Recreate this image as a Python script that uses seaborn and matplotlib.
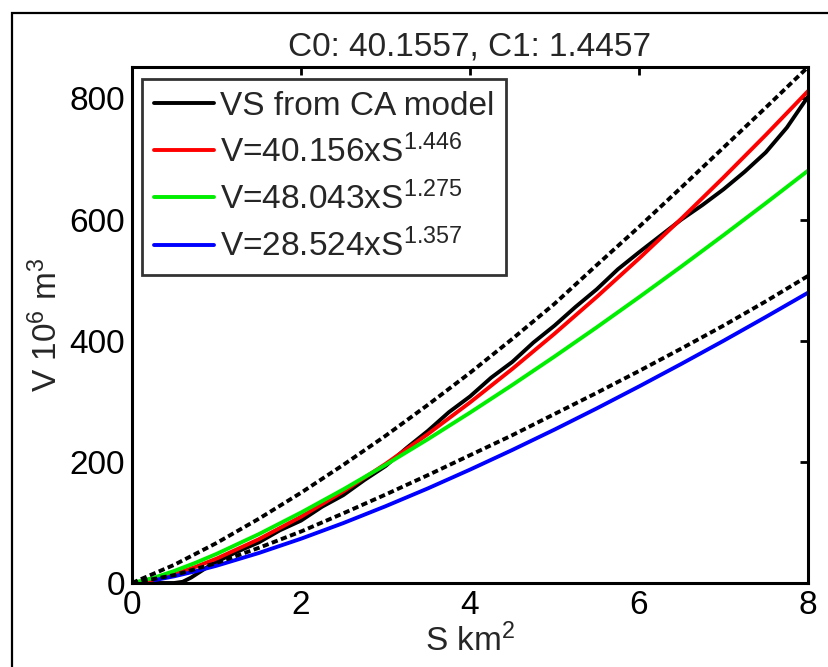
import matplotlib
matplotlib.use("Agg")
import matplotlib.pyplot as plt
import seaborn as sns
import pandas as pd
from matplotlib.patches import Rectangle
from matplotlib.lines import Line2D

# ---- data ----
S_ca = [0, 0.25, 0.5, 0.6, 0.7, 0.8, 0.9, 1.0, 1.25, 1.5, 1.75, 2.0, 2.25, 2.5, 2.75,
        3.0, 3.25, 3.5, 3.75, 4.0, 4.25, 4.5, 4.75, 5.0, 5.25, 5.5, 5.75, 6.0, 6.25,
        6.5, 6.75, 7.0, 7.25, 7.5, 7.75, 8.0]
V_ca = [0, 0, 0, 2, 9, 18, 27, 35, 52, 67, 87, 103, 126, 145, 170,
        193, 223, 251, 282, 308, 339, 365, 397, 425, 456, 485, 518, 546, 573,
        600, 624, 650, 679, 711, 752, 803]

S_fit = [0, 0.25, 0.5, 0.75, 1.0, 1.5, 2.0, 2.5, 3.0, 3.5, 4.0, 4.5, 5.0, 5.5,
         6.0, 6.5, 7.0, 7.5, 8.0]
V_red = [0, 5.4, 14.7, 26.5, 40.2, 72.2, 109.4, 151.1, 196.6, 245.8, 298.1, 353.4,
         411.6, 472.4, 535.7, 601.4, 669.6, 739.8, 812.2]
V_green = [0, 8.2, 19.9, 33.3, 48.0, 80.6, 116.3, 154.5, 195.0, 237.3, 281.3, 326.9,
           373.9, 422.2, 471.8, 522.5, 574.3, 627.1, 680.8]

S_blue = [0.27, 0.5, 0.75, 1.0, 1.5, 2.0, 2.5, 3.0, 3.5, 4.0, 4.5, 5.0, 5.5, 6.0,
          6.5, 7.0, 7.5, 8.0]
V_blue = [4.8, 11.1, 19.3, 28.5, 49.5, 73.1, 98.9, 126.7, 156.1, 187.2, 219.6, 253.3,
          288.3, 324.5, 361.7, 399.9, 439.2, 479.3]

S_bound = [0, 0.5, 1.0, 1.5, 2.0, 2.5, 3.0, 3.5, 4.0, 4.5, 5.0, 5.5, 6.0, 6.5,
           7.0, 7.5, 8.0]
V_upper = [0, 30, 66, 106, 149, 195, 243, 294, 347, 403, 461, 525, 588, 653, 719, 785, 852]
V_lower = [0, 13, 33, 58, 85, 115, 146, 178, 211, 244, 279, 314, 350, 387, 425, 465, 507]

labels = ["VS from CA model",
          "V=40.156xS$^{1.446}$",
          "V=48.043xS$^{1.275}$",
          "V=28.524xS$^{1.357}$"]
title = "C0: 40.1557, C1: 1.4457"
x_ticks = [0, 2, 4, 6, 8]
y_ticks = [0, 200, 400, 600, 800]

# ---- style ----
sns.set_style("white")
plt.rcParams["font.family"] = ["Liberation Sans", "DejaVu Sans"]
plt.rcParams["mathtext.default"] = "regular"

W, H = 829, 667
fig = plt.figure(figsize=(W / 100, H / 100), dpi=100)
ax = fig.add_axes([132 / W, 1 - 583 / H, (808 - 132) / W, (583 - 67) / H])

lw = 2.8
sns.lineplot(x=S_ca, y=V_ca, color="black", lw=lw, ax=ax, sort=False, estimator=None)
sns.lineplot(x=S_fit, y=V_red, color="#ff0000", lw=lw, ax=ax, estimator=None)
sns.lineplot(x=S_fit, y=V_green, color="#00ee00", lw=lw, ax=ax, estimator=None)
sns.lineplot(x=S_blue, y=V_blue, color="#0000ff", lw=lw, ax=ax, estimator=None)
for vals in (V_upper, V_lower):
    sns.lineplot(x=S_bound, y=vals, color="black", lw=lw, ax=ax, estimator=None,
                 dashes=False)
    ax.lines[-1].set_dashes((1.6, 0.9))

ax.set_xlim(0, 8)
ax.set_ylim(0, 852)
ax.set_xticks(x_ticks)
ax.set_yticks(y_ticks)

fs = 24
ax.tick_params(direction="in", length=6, width=2, labelsize=fs, top=True, right=True,
               pad=5, colors="black")
for sp in ax.spines.values():
    sp.set_linewidth(2.2)
    sp.set_color("black")

ax.set_xlabel("S km$^2$", fontsize=fs, labelpad=2)
ax.set_ylabel("V 10$^6$ m$^3$", fontsize=fs, labelpad=4)
ax.set_title(title, fontsize=fs, pad=8)

handles = [Line2D([], [], color=c, lw=lw) for c in ["black", "#ff0000", "#00ee00", "#0000ff"]]
leg = ax.legend(handles, labels, loc="upper left", bbox_to_anchor=(10 / 676, 1 - 12 / 516),
                fontsize=fs, frameon=True, fancybox=False, handlelength=1.8,
                handletextpad=0.2, borderpad=0.35, labelspacing=0.38, borderaxespad=0)
leg.get_frame().set_edgecolor("black")
leg.get_frame().set_linewidth(2.0)

# outer figure border (left and top visible)
fig.patches.append(Rectangle((12 / W, -0.2), 1.5, 1.2 - 13 / H,
                             transform=fig.transFigure, fill=False, edgecolor="black",
                             lw=1.6))

fig.savefig("out.png", dpi=100)
